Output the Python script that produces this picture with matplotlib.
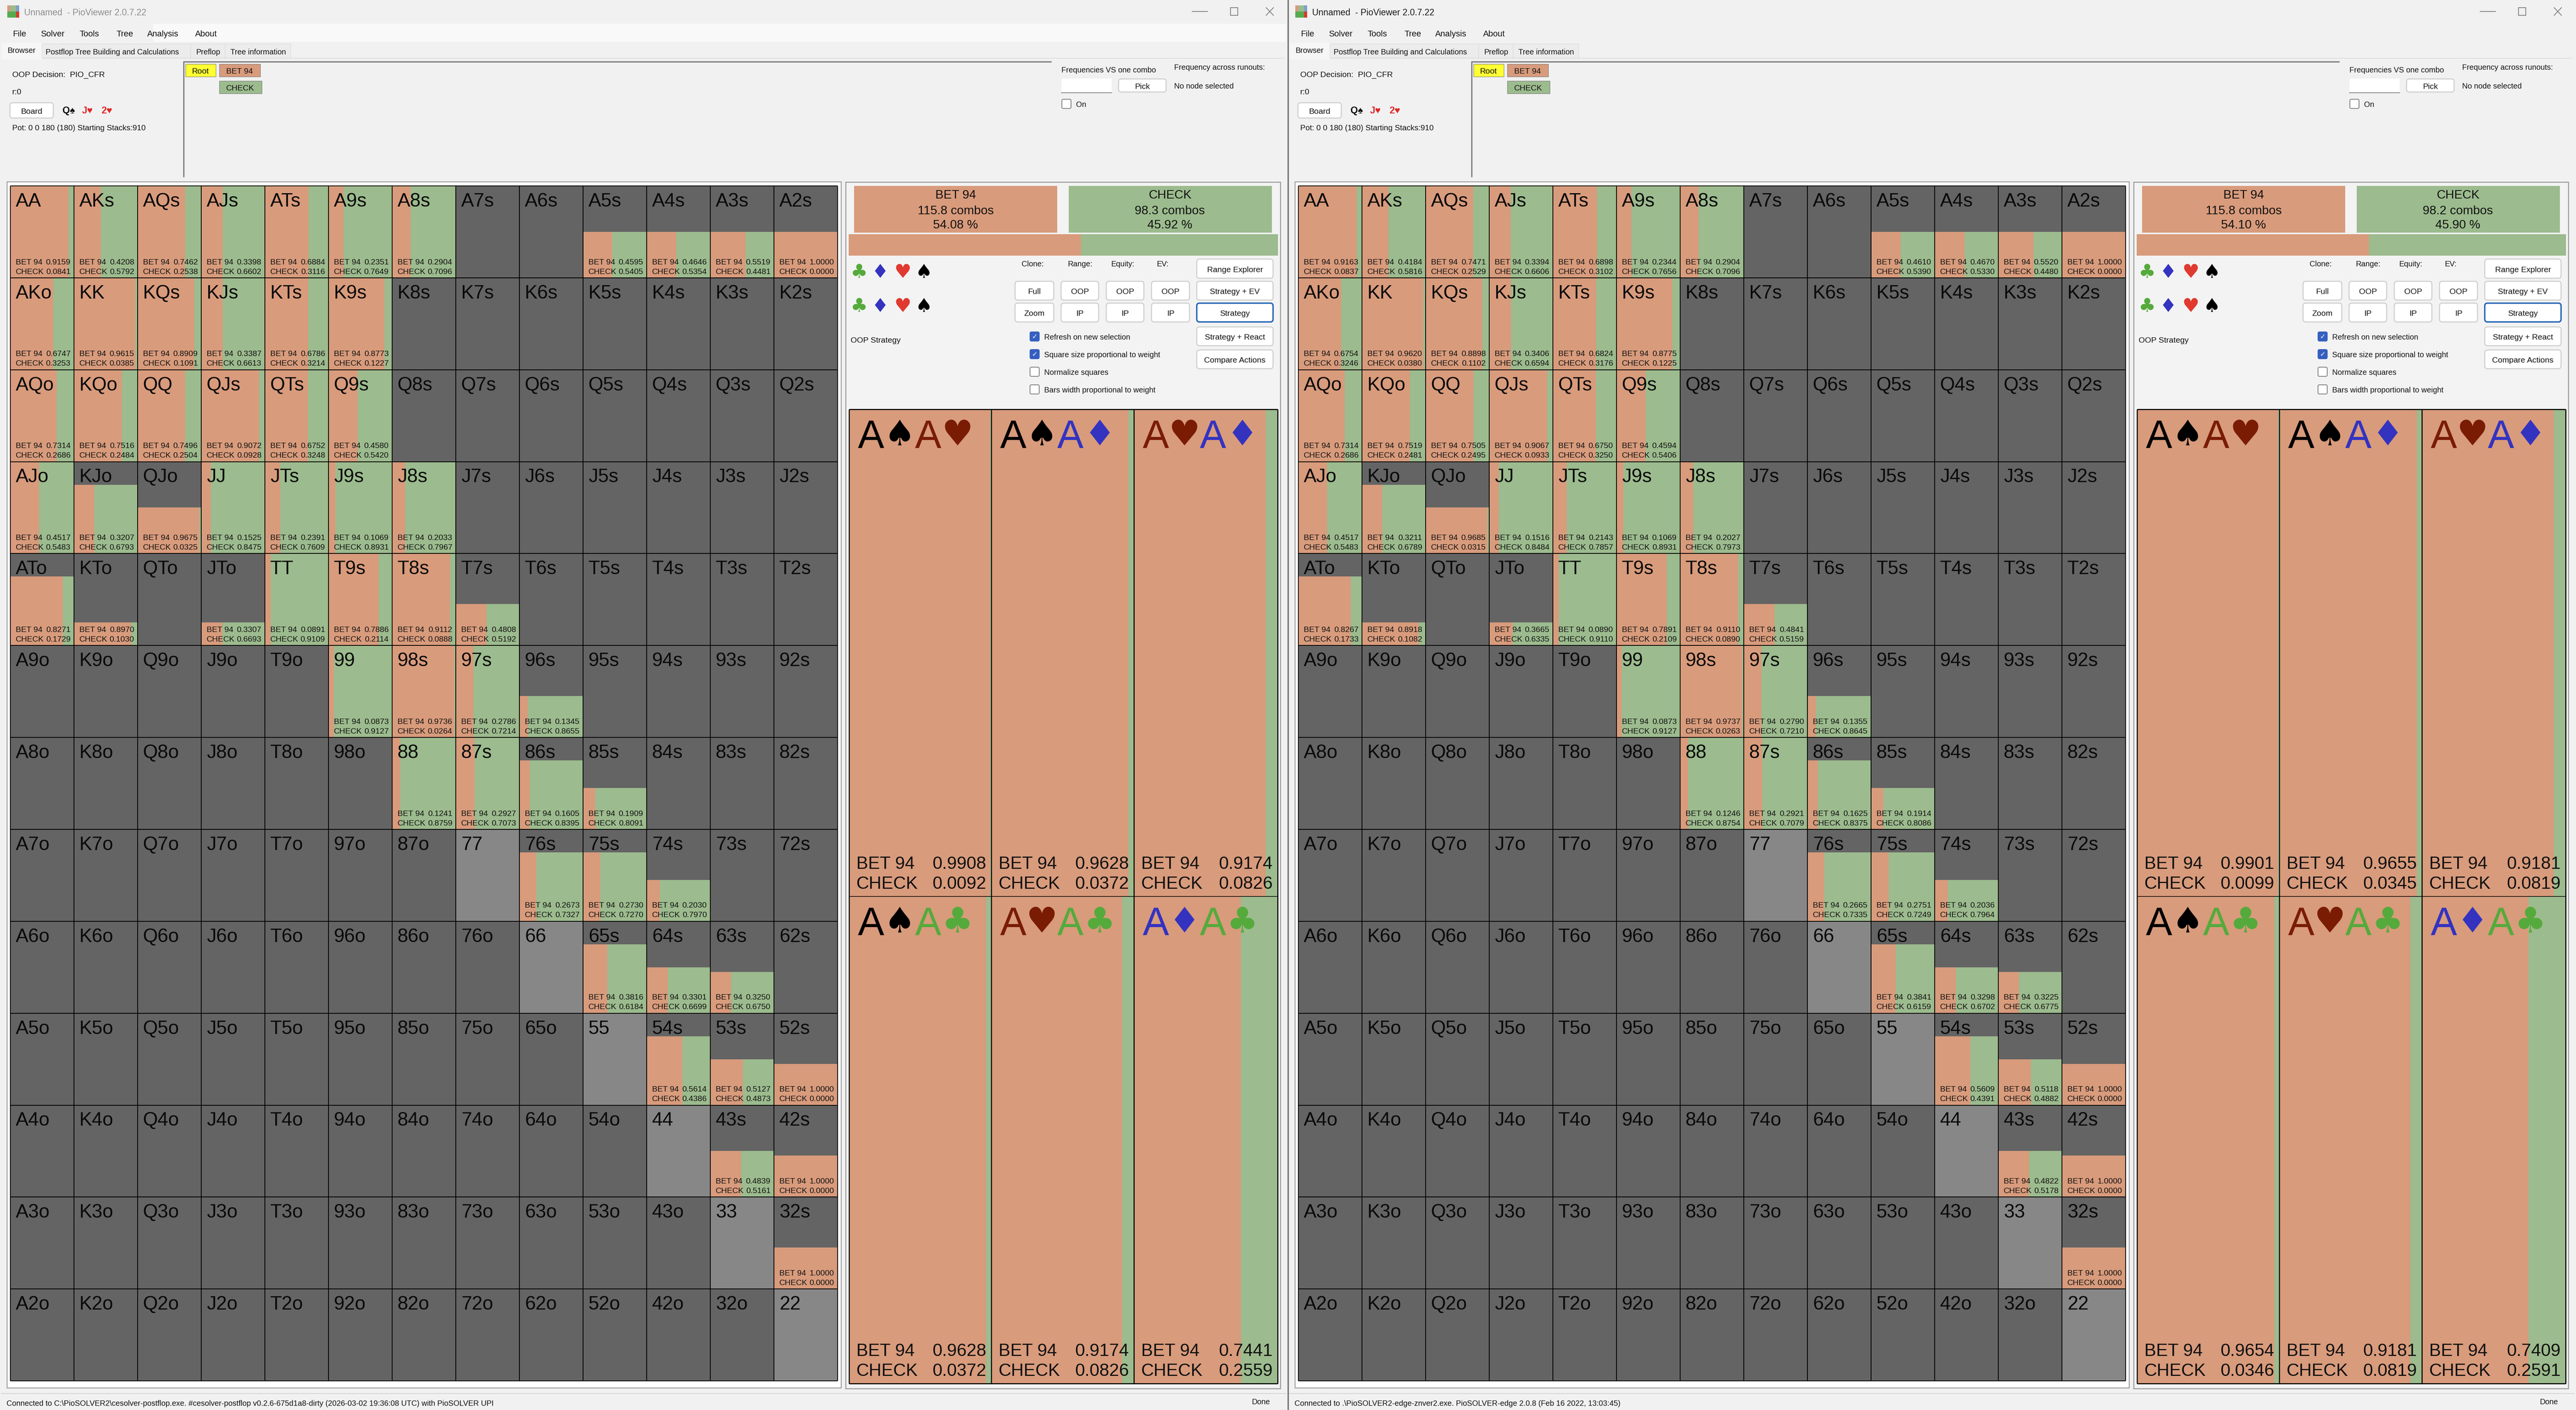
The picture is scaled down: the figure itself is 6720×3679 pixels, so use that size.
import matplotlib
matplotlib.use('Agg')
import matplotlib.pyplot as plt
from matplotlib.patches import Rectangle, FancyBboxPatch

plt.rcParams['font.family'] = ['Liberation Sans', 'DejaVu Sans']

ranks = list('AKQJT98765432')

left_bet = {
    'AA': .9159, 'AKs': .4208, 'AQs': .7462, 'AJs': .3398, 'ATs': .6884, 'A9s': .2351, 'A8s': .2904,
    'A5s': .4595, 'A4s': .4646, 'A3s': .5519, 'A2s': 1.0,
    'AKo': .6747, 'KK': .9615, 'KQs': .8909, 'KJs': .3387, 'KTs': .6786, 'K9s': .8773,
    'AQo': .7314, 'KQo': .7516, 'QQ': .7496, 'QJs': .9072, 'QTs': .6752, 'Q9s': .4580,
    'AJo': .4517, 'KJo': .3207, 'QJo': .9675, 'JJ': .1525, 'JTs': .2391, 'J9s': .1069, 'J8s': .2033,
    'ATo': .8271, 'KTo': .8970, 'JTo': .3307, 'TT': .0891, 'T9s': .7886, 'T8s': .9112, 'T7s': .4808,
    '99': .0873, '98s': .9736, '97s': .2786, '96s': .1345,
    '88': .1241, '87s': .2927, '86s': .1605, '85s': .1909,
    '76s': .2673, '75s': .2730, '74s': .2030,
    '65s': .3816, '64s': .3301, '63s': .3250,
    '54s': .5614, '53s': .5127, '52s': 1.0,
    '43s': .4839, '42s': 1.0, '32s': 1.0,
}
right_bet = {
    'AA': .9163, 'AKs': .4184, 'AQs': .7471, 'AJs': .3394, 'ATs': .6898, 'A9s': .2344, 'A8s': .2904,
    'A5s': .4610, 'A4s': .4670, 'A3s': .5520, 'A2s': 1.0,
    'AKo': .6754, 'KK': .9620, 'KQs': .8898, 'KJs': .3406, 'KTs': .6824, 'K9s': .8775,
    'AQo': .7314, 'KQo': .7519, 'QQ': .7505, 'QJs': .9067, 'QTs': .6750, 'Q9s': .4594,
    'AJo': .4517, 'KJo': .3211, 'QJo': .9685, 'JJ': .1516, 'JTs': .2143, 'J9s': .1069, 'J8s': .2027,
    'ATo': .8267, 'KTo': .8918, 'JTo': .3665, 'TT': .0890, 'T9s': .7891, 'T8s': .9110, 'T7s': .4841,
    '99': .0873, '98s': .9737, '97s': .2790, '96s': .1355,
    '88': .1246, '87s': .2921, '86s': .1625, '85s': .1914,
    '76s': .2665, '75s': .2751, '74s': .2036,
    '65s': .3841, '64s': .3298, '63s': .3225,
    '54s': .5609, '53s': .5118, '52s': 1.0,
    '43s': .4822, '42s': 1.0, '32s': 1.0,
}
# hands that are not at full weight (height of the coloured part)
weights = {
    'A5s': .5, 'A4s': .5, 'A3s': .5, 'A2s': .5, 'KJo': .75, 'QJo': .5,
    'ATo': .75, 'KTo': .25, 'JTo': .25, 'T7s': .45, '96s': .45,
    '86s': .75, '85s': .45, '76s': .75, '75s': .75, '74s': .45,
    '65s': .75, '64s': .5, '63s': .45, '54s': .75, '53s': .5, '52s': .45,
    '43s': .5, '42s': .45, '32s': .45,
}
pale_hands = ['77', '66', '55', '44', '33', '22']

combo_cards = [['♠', '♥'], ['♠', '♦'], ['♥', '♦'], ['♠', '♣'], ['♥', '♣'], ['♦', '♣']]
left_combo_bet = [.9908, .9628, .9174, .9628, .9174, .7441]
right_combo_bet = [.9901, .9655, .9181, .9654, .9181, .7409]

left_summary = ['115.8 combos', '54.08 %', '98.3 combos', '45.92 %']
right_summary = ['115.8 combos', '54.10 %', '98.2 combos', '45.90 %']
left_share = .5408
right_share = .5410

left_status = 'Connected to C:\\PioSOLVER2\\cesolver-postflop.exe. #cesolver-postflop v0.2.6-675d1a8-dirty (2026-03-02 19:36:08 UTC) with PioSOLVER UPI'
right_status = 'Connected to .\\PioSOLVER2-edge-znver2.exe. PioSOLVER-edge 2.0.8 (Feb 16 2022, 13:03:45)'

ORANGE = '#D89B7C'
GREEN = '#9CBB8E'
DARK = '#646464'
PALE = '#878787'
BG = '#F1F1F1'
suit_colors = {'♠': '#000000', '♥': '#7A1C04', '♦': '#3333C0', '♣': '#55AA3C'}

fig = plt.figure(figsize=(67.2, 36.8), dpi=100, facecolor=BG)
ax = fig.add_axes([0, 0, 1, 1])
ax.set_xlim(0, 6720)
ax.set_ylim(3680, 0)
ax.axis('off')


def label(x, y, s, em=21, color='#111111', ha='left', **kw):
    # y is the middle of the capitals, em is the font size in pixels
    ax.text(x, y + .358 * em, s, fontsize=em * .72, color=color, ha=ha, va='baseline', **kw)


def box(x0, y0, x1, y1, color, edge='none', lw=0, z=1):
    ax.add_patch(Rectangle((x0, y0), x1 - x0, y1 - y0, facecolor=color, edgecolor=edge, linewidth=lw, zorder=z))


def button(x0, y0, x1, y1, s, edge='#CFCFCF', lw=2):
    ax.add_patch(FancyBboxPatch((x0, y0), x1 - x0, y1 - y0, boxstyle='round,pad=0,rounding_size=7',
                                facecolor='white', edgecolor=edge, linewidth=lw, zorder=2))
    label((x0 + x1) / 2, (y0 + y1) / 2, s, ha='center', zorder=3)


def checkbox(x, y, s, checked):
    fc = '#3560C0' if checked else 'white'
    ec = '#3560C0' if checked else '#808080'
    ax.add_patch(FancyBboxPatch((x, y - 12), 24, 24, boxstyle='round,pad=0,rounding_size=4',
                                facecolor=fc, edgecolor=ec, linewidth=1.5, zorder=2))
    if checked:
        ax.text(x + 12, y, '✓', fontsize=13, color='white', ha='center', va='center', family='DejaVu Sans', zorder=3)
    label(x + 37, y, s, em=20, zorder=3)


def draw_grid(x0, bets):
    left = x0 + 27
    top = 486
    cell_w = 166
    cell_h = 239.85
    for i, row in enumerate(ranks):
        for j, col in enumerate(ranks):
            if i == j:
                hand = row + col
            elif j > i:
                hand = row + col + 's'
            else:
                hand = col + row + 'o'
            cx = left + j * cell_w
            cy = top + i * cell_h
            ax.bar(cx, cell_h, cell_w, cy, align='edge', color=PALE if hand in pale_hands else DARK, zorder=2)
            if hand in bets:
                bet = bets[hand]
                fill = weights.get(hand, 1) * cell_h
                ax.bar(cx, fill, bet * cell_w, cy + cell_h - fill, align='edge', color=ORANGE, zorder=3)
                ax.bar(cx + bet * cell_w, fill, (1 - bet) * cell_w, cy + cell_h - fill, align='edge', color=GREEN, zorder=3)
                label(cx + 14, cy + 196, 'BET 94', em=21, zorder=5)
                label(cx + 157, cy + 196, f'{bet:.4f}', em=21, ha='right', zorder=5)
                label(cx + 14, cy + 221, 'CHECK', em=21, zorder=5)
                label(cx + 157, cy + 221, f'{1 - bet:.4f}', em=21, ha='right', zorder=5)
            label(cx + 14, cy + 35, hand, em=50, color='#0A0A0A', zorder=5)
    for k in range(14):
        ax.plot([left + k * cell_w] * 2, [top, top + 13 * cell_h], color='black', lw=1.5, zorder=4, solid_capstyle='butt')
        ax.plot([left, left + 13 * cell_w], [top + k * cell_h] * 2, color='black', lw=1.5, zorder=4, solid_capstyle='butt')


def draw_combos(x0, combo_bet):
    lefts = [x0 + 2215, x0 + 2586, x0 + 2958]
    widths = [371, 372, 375]
    tops = [1069, 2340]
    row_h = 1271
    for n, bet in enumerate(combo_bet):
        cx = lefts[n % 3]
        w = widths[n % 3]
        cy = tops[n // 3]
        ax.bar(cx, row_h, bet * w, cy, align='edge', color=ORANGE, zorder=2)
        ax.bar(cx + bet * w, row_h, (1 - bet) * w, cy, align='edge', color=GREEN, zorder=2)
        a, b = combo_cards[n]
        label(cx + 23, cy + 63, 'A', em=103, color=suit_colors[a], zorder=5)
        ax.text(cx + 132, cy + 67, a, fontsize=92 * .72, color=suit_colors[a], ha='center', va='center', family='DejaVu Sans', zorder=5)
        label(cx + 172, cy + 63, 'A', em=103, color=suit_colors[b], zorder=5)
        ax.text(cx + 283, cy + 67, b, fontsize=92 * .72, color=suit_colors[b], ha='center', va='center', family='DejaVu Sans', zorder=5)
        by = cy + row_h
        label(cx + 19, by - 89, 'BET 94', em=46, zorder=5)
        label(cx + w - 13, by - 89, f'{bet:.4f}', em=46, ha='right', zorder=5)
        label(cx + 19, by - 37, 'CHECK', em=46, zorder=5)
        label(cx + w - 13, by - 37, f'{1 - bet:.4f}', em=46, ha='right', zorder=5)
    for x in [x0 + 2215, x0 + 2586, x0 + 2958, x0 + 3333]:
        ax.plot([x, x], [1069, 3611], color='black', lw=2, zorder=4, solid_capstyle='butt')
    for y in [1069, 3611]:
        ax.plot([x0 + 2215, x0 + 3333], [y, y], color='black', lw=2, zorder=4, solid_capstyle='butt')
    ax.plot([x0 + 2215, x0 + 3333], [2340, 2340], color='black', lw=1.2, zorder=4, solid_capstyle='butt')


def draw_window(x0, bets, combo_bet, summary, share, status, title_color):
    # title bar and menus
    box(x0 + 19, 15, x0 + 27, 31, ORANGE)
    box(x0 + 27, 15, x0 + 42, 31, GREEN)
    box(x0 + 42, 15, x0 + 50, 31, '#7B9FC9')
    box(x0 + 19, 31, x0 + 42, 47, '#56AB50')
    box(x0 + 42, 31, x0 + 50, 47, '#D83A2A')
    label(x0 + 63, 32, 'Unnamed  - PioViewer 2.0.7.22', em=23, color=title_color)
    for x, s in [(33, 'File'), (107, 'Solver'), (208, 'Tools'), (303, 'Tree'), (384, 'Analysis'), (509, 'About')]:
        label(x0 + x, 87, s, em=22)
    ax.plot([x0 + 3110, x0 + 3150], [31, 31], color='#808080', lw=1.5)
    box(x0 + 3210, 21, x0 + 3229, 41, 'none', edge='#808080', lw=1.5)
    ax.plot([x0 + 3303, x0 + 3322], [21, 41], color='#808080', lw=1.5)
    ax.plot([x0 + 3303, x0 + 3322], [41, 21], color='#808080', lw=1.5)

    # tabs
    box(x0 + 4, 152, x0 + 3350, 154, '#DDDDDD')
    box(x0 + 109, 115, x0 + 497, 152, '#ECECEC', edge='#DDDDDD', lw=1)
    box(x0 + 497, 115, x0 + 587, 152, '#ECECEC', edge='#DDDDDD', lw=1)
    box(x0 + 587, 115, x0 + 758, 152, '#ECECEC', edge='#DDDDDD', lw=1)
    box(x0 + 4, 112, x0 + 109, 156, '#F6F6F6', z=2)
    label(x0 + 19, 131, 'Browser', em=20, zorder=3)
    label(x0 + 119, 135, 'Postflop Tree Building and Calculations', em=20, zorder=3)
    label(x0 + 511, 135, 'Preflop', em=20, zorder=3)
    label(x0 + 601, 135, 'Tree information', em=20, zorder=3)

    # node info
    label(x0 + 32, 193, 'OOP Decision:  PIO_CFR', em=21)
    label(x0 + 32, 238, 'r:0', em=21)
    button(x0 + 26, 269, x0 + 139, 309, 'Board')
    label(x0 + 163, 287, 'Q♠', em=25, color='#111111', fontweight='bold')
    label(x0 + 214, 287, 'J♥', em=25, color='#E02A2A', fontweight='bold')
    label(x0 + 264, 287, '2♥', em=25, color='#E02A2A', fontweight='bold')
    label(x0 + 32, 333, 'Pot: 0 0 180 (180) Starting Stacks:910', em=20.5)

    # tree view
    ax.plot([x0 + 479, x0 + 479, x0 + 2743], [463, 162, 162], color='#808080', lw=2.5, solid_capstyle='butt')
    box(x0 + 484, 168, x0 + 563, 201, '#FFFF33', edge='#777777', lw=0.8)
    label(x0 + 523, 184, 'Root', em=21, ha='center', zorder=3)
    box(x0 + 572, 168, x0 + 679, 201, ORANGE, edge='#777777', lw=0.8)
    label(x0 + 625, 184, 'BET 94', em=21, ha='center', zorder=3)
    box(x0 + 572, 212, x0 + 683, 245, GREEN, edge='#777777', lw=0.8)
    label(x0 + 627, 228, 'CHECK', em=21, ha='center', zorder=3)

    # top right controls
    label(x0 + 2769, 182, 'Frequencies VS one combo', em=20)
    label(x0 + 3063, 175, 'Frequency across runouts:', em=20)
    label(x0 + 3063, 224, 'No node selected', em=20)
    box(x0 + 2769, 206, x0 + 2900, 243, 'white')
    ax.plot([x0 + 2769, x0 + 2900], [243, 243], color='#888888', lw=1.5)
    button(x0 + 2918, 207, x0 + 3042, 241, 'Pick')
    checkbox(x0 + 2770, 272, 'On', False)

    # hand grid
    box(x0 + 18, 475, x0 + 2194, 3622, 'white', edge='#A8A8A8', lw=2)
    draw_grid(x0, bets)

    # right panel
    box(x0 + 2206, 476, x0 + 3340, 3624, '#F3F3F3', edge='#A0A0A0', lw=2)
    box(x0 + 2228, 486, x0 + 2758, 608, ORANGE, z=2)
    box(x0 + 2788, 486, x0 + 3318, 608, GREEN, z=2)
    for cx, lines in [(2493, ['BET 94', summary[0], summary[1]]), (3052, ['CHECK', summary[2], summary[3]])]:
        for y, s in zip([507, 548, 585], lines):
            label(x0 + cx, y, s, em=32, ha='center', zorder=3)
    ax.bar(x0 + 2214, 56, share * 1120, 612, align='edge', color=ORANGE, zorder=2)
    ax.bar(x0 + 2214 + share * 1120, 56, (1 - share) * 1120, 612, align='edge', color=GREEN, zorder=2)

    for y in [711, 800]:
        for x, s, c in [(2241, '♣', '#55AA3C'), (2296, '♦', '#3333C0'), (2355, '♥', '#E03A30'), (2410, '♠', '#000000')]:
            ax.text(x0 + x, y, s, fontsize=50 * .72, color=c, ha='center', va='center', family='DejaVu Sans', zorder=3)
    for x, s in [(2694, 'Clone:'), (2818, 'Range:'), (2929, 'Equity:'), (3033, 'EV:')]:
        label(x0 + x, 688, s, em=20, ha='center')
    button(x0 + 3122, 677, x0 + 3321, 727, 'Range Explorer')
    button(x0 + 2648, 735, x0 + 2749, 784, 'Full')
    button(x0 + 2768, 735, x0 + 2866, 784, 'OOP')
    button(x0 + 2886, 735, x0 + 2984, 784, 'OOP')
    button(x0 + 3004, 735, x0 + 3103, 784, 'OOP')
    button(x0 + 3122, 735, x0 + 3321, 784, 'Strategy + EV')
    button(x0 + 2648, 792, x0 + 2749, 841, 'Zoom')
    button(x0 + 2768, 792, x0 + 2866, 841, 'IP')
    button(x0 + 2886, 792, x0 + 2984, 841, 'IP')
    button(x0 + 3004, 792, x0 + 3103, 841, 'IP')
    button(x0 + 3122, 792, x0 + 3321, 841, 'Strategy', edge='#1A5FB4', lw=2.5)
    button(x0 + 3122, 854, x0 + 3321, 903, 'Strategy + React')
    button(x0 + 3122, 914, x0 + 3321, 963, 'Compare Actions')
    label(x0 + 2219, 886, 'OOP Strategy', em=21)
    checkbox(x0 + 2687, 879, 'Refresh on new selection', True)
    checkbox(x0 + 2687, 925, 'Square size proportional to weight', True)
    checkbox(x0 + 2687, 971, 'Normalize squares', False)
    checkbox(x0 + 2687, 1017, 'Bars width proportional to weight', False)

    draw_combos(x0, combo_bet)

    # status bar
    ax.plot([x0 + 4, x0 + 3355], [3637, 3637], color='#D4D4D4', lw=1.5)
    label(x0 + 17, 3661, status, em=20)
    label(x0 + 3289, 3657, 'Done', em=20, ha='center')


box(400, 63, 3355, 110, '#F9F9F9', z=0)
draw_window(0, left_bet, left_combo_bet, left_summary, left_share, left_status, '#8C8C8C')
draw_window(3360, right_bet, right_combo_bet, right_summary, right_share, right_status, '#1A1A1A')
ax.plot([3360, 3360], [0, 3680], color='#6E6E6E', lw=2.5, zorder=6, solid_capstyle='butt')

fig.savefig('out.png', dpi=100, facecolor=BG)
